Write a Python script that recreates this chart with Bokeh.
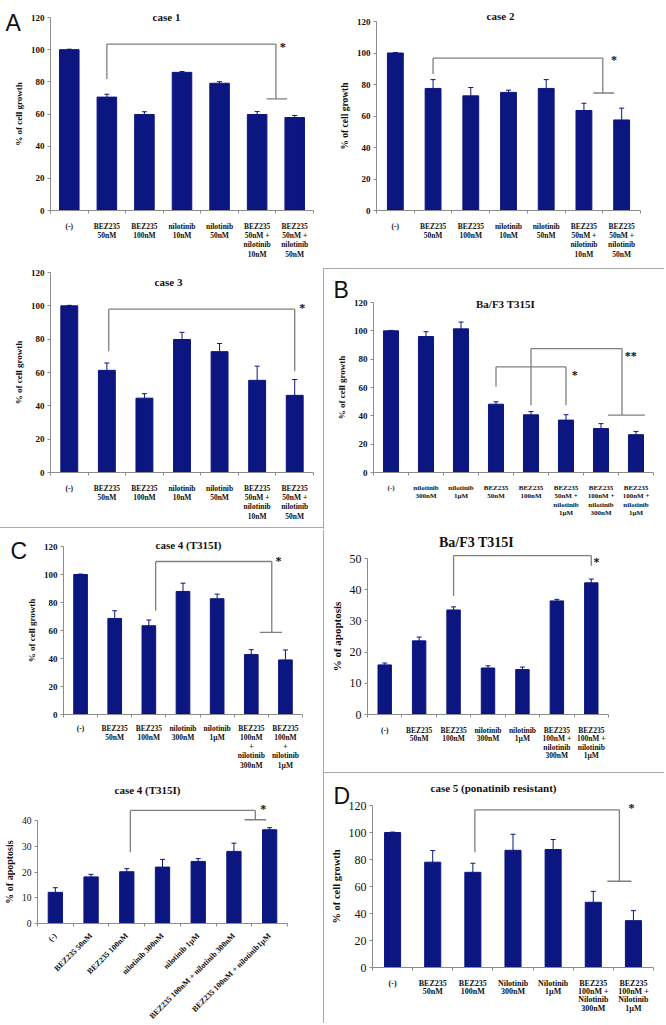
import math
from bokeh.plotting import figure
from bokeh.models import FixedTicker, Label, Whisker, TeeHead, ColumnDataSource, Range1d
from bokeh.layouts import column, row
from bokeh.embed import file_html
from bokeh.resources import INLINE

# ---------------- data ----------------
cats_ab = ["(-)", "BEZ235\n50nM", "BEZ235\n100nM", "nilotinib\n10nM", "nilotinib\n50nM",
           "BEZ235\n50nM +\nnilotinib\n10nM", "BEZ235\n50nM +\nnilotinib\n50nM"]
vals_case1 = [100, 70.5, 59.7, 85.9, 79.1, 59.7, 57.8]
errs_case1 = [0.3, 1.8, 1.7, 0.5, 1.0, 1.8, 1.3]
vals_case2 = [100, 77.5, 72.8, 75.0, 77.5, 63.5, 57.5]
errs_case2 = [0.3, 5.6, 5.3, 1.4, 5.6, 4.6, 7.5]
vals_case3 = [100, 61.3, 44.6, 79.8, 72.5, 55.3, 46.3]
errs_case3 = [0.3, 4.4, 2.7, 4.3, 4.9, 8.5, 9.5]

cats_b = ["(-)", "nilotinib\n300nM", "nilotinib\n1µM", "BEZ235\n50nM", "BEZ235\n100nM",
          "BEZ235\n50nM +\nnilotinib\n1µM", "BEZ235\n100nM +\nnilotinib\n300nM",
          "BEZ235\n100nM +\nnilotinib\n1µM"]
vals_b = [100, 96.0, 101.4, 48.2, 40.7, 37.0, 31.0, 26.7]
errs_b = [0.3, 3.4, 4.8, 1.7, 2.3, 3.8, 3.5, 2.3]

cats_ba = ["(-)", "BEZ235\n50nM", "BEZ235\n100nM", "nilotinib\n300nM", "nilotinib\n1µM",
           "BEZ235\n100nM +\nnilotinib\n300nM", "BEZ235\n100nM +\nnilotinib\n1µM"]
vals_ba = [15.9, 23.6, 33.5, 14.9, 14.4, 36.4, 42.2]
errs_ba = [0.6, 1.2, 1.0, 0.7, 0.8, 0.5, 1.2]

cats_c = ["(-)", "BEZ235\n50nM", "BEZ235\n100nM", "nilotinib\n300nM", "nilotinib\n1µM",
          "BEZ235\n100nM\n+\nnilotinib\n300nM", "BEZ235\n100nM\n+\nnilotinib\n1µM"]
vals_c = [100, 68.6, 63.4, 87.9, 82.7, 42.8, 39.0]
errs_c = [0.3, 5.5, 4.1, 5.9, 3.3, 3.5, 7.1]

cats_ca = ["(-)", "BEZ235 50nM", "BEZ235 100nM", "nilotinib 300nM", "nilotinib 1µM",
           "BEZ235 100nM + nilotinib 300nM", "BEZ235 100nM + nilotinib1µM"]
vals_ca = [12.1, 18.1, 20.1, 21.9, 24.1, 28.0, 36.4]
errs_ca = [1.8, 1.0, 1.2, 3.0, 1.1, 3.2, 0.8]

cats_d = ["(-)", "BEZ235\n50nM", "BEZ235\n100nM", "Nilotinib\n300nM", "Nilotinib\n1µM",
          "BEZ235\n100nM +\nNilotinib\n300nM", "BEZ235\n100nM +\nNilotinib\n1µM"]
vals_d = [100, 78.0, 70.5, 86.8, 87.4, 48.3, 34.7]
errs_d = [0.3, 8.6, 6.7, 11.9, 7.4, 8.1, 7.4]

ticks_growth = [0, 20, 40, 60, 80, 100, 120]
ticks_apo50 = [0, 10, 20, 30, 40, 50]
ticks_apo40 = [0, 10, 20, 30, 40]

# significance brackets: (x_left, x_right, y_top, y_left_end, y_right_end, tbar_x0, tbar_x1)
brk_case1 = [(1, 5.5, 103.5, 81.8, 69.4, 5.25, 5.8)]
brk_case2 = [(1, 5.5, 96.8, 86.7, 74.6, 5.25, 5.8)]
brk_case3 = [(1.05, 6.0, 98, 72.8, 60.8, None, None)]
brk_b = [(3, 5, 74.6, 60.5, 47.5, None, None), (4, 6.6, 87.5, 47.5, 40.5, 6.2, 7.25)]
brk_ba = [(2, 6, 50.9, 38, 47.7, None, None)]
brk_c = [(2.2, 5.6, 109.3, 74.1, 58.7, 5.25, 5.9)]
brk_ca = [(2.1, 5.6, 43.9, 27.7, 40.3, 5.3, 5.9)]
brk_d = [(2.05, 5.65, 116.8, 85.4, 63.9, 5.35, 5.95)]
stars_case1 = [(5.68, 101.5, "*")]
stars_case2 = [(5.8, 95.5, "*")]
stars_case3 = [(6.2, 98.5, "*")]
stars_b = [(5.25, 69.0, "*"), (6.85, 82.5, "**")]
stars_ba = [(6.15, 49.0, "*")]
stars_c = [(5.8, 110.0, "*")]
stars_ca = [(5.82, 44.5, "*")]
stars_d = [(5.95, 118.0, "*")]

BAR = "#0c1680"
AXC = "#8c8c8c"
BRK = "#7f7f7f"
SEP = "#a8a8a8"
SERIF = "Liberation Serif"
SANS = "Liberation Sans"


def chart(origin, size, frame, ytop, cats, vals, errs, yticks, bar_w, title, title_xy,
          title_size, ylabel, ylabel_size, ytick_size, ytick_style, xlab_size, xlab_lh,
          brackets, stars, letter=None, letter_xy=None, rotate=False, shadow=None,
          xlab_standoff=5):
    ox, oy = origin
    W, H = size
    fl, fr, ft, fb = frame
    n = len(cats)
    cw = (fr - fl) / n
    pu = (fb - ft) / ytop
    x0r = -0.5 - (fl - ox) / cw
    y1r = ytop + (ft - oy) / pu
    xr = Range1d(x0r, n - 0.5 + (ox + W - fr) / cw)
    yr = Range1d(-(oy + H - fb) / pu, y1r)

    def to_data(px, py):
        return (x0r + (px - ox) / cw, y1r - (py - oy) / pu)

    p = figure(width=W, height=H, x_range=xr, y_range=yr,
               toolbar_location=None, tools="", output_backend="svg")
    p.title.text = ""
    p.title.visible = False
    p.min_border = 0
    p.min_border_left = 0
    p.min_border_right = 0
    p.min_border_top = 0
    p.min_border_bottom = 0
    p.outline_line_color = None
    p.xgrid.visible = False
    p.ygrid.visible = False
    p.background_fill_color = "white"
    p.border_fill_color = "white"

    xs = list(range(n))
    src = ColumnDataSource(dict(x=xs, top=vals, upper=[v + e for v, e in zip(vals, errs)]))
    p.vbar(x="x", top="top", width=bar_w, color=BAR, source=src)
    p.add_layout(Whisker(source=src, base="x", lower="top", upper="upper", dimension="height",
                         line_color=BAR, line_width=1,
                         upper_head=TeeHead(size=5, line_color=BAR, line_width=1),
                         lower_head=None))

    # x axis
    xa = p.xaxis[0]
    xa.fixed_location = 0
    xa.bounds = (-0.5, n - 0.5)
    xa.ticker = FixedTicker(ticks=xs, minor_ticks=[i - 0.5 for i in range(n + 1)])
    xa.major_label_overrides = {i: c for i, c in enumerate(cats)}
    xa.major_tick_line_color = None
    xa.minor_tick_line_color = AXC
    xa.minor_tick_out = 3
    xa.minor_tick_in = 0
    xa.axis_line_color = AXC
    xa.major_label_text_font = SERIF
    xa.major_label_text_font_style = "bold"
    xa.major_label_text_font_size = xlab_size
    xa.major_label_text_line_height = xlab_lh
    xa.major_label_text_color = "#111111"
    xa.major_label_standoff = xlab_standoff
    if rotate:
        xa.major_label_orientation = math.pi / 4

    # y axis
    ya = p.yaxis[0]
    ya.fixed_location = -0.5
    ya.ticker = FixedTicker(ticks=yticks)
    ya.bounds = (yticks[0], yticks[-1])
    ya.axis_line_color = AXC
    ya.major_tick_line_color = AXC
    ya.major_tick_out = 3
    ya.major_tick_in = 0
    ya.minor_tick_line_color = None
    ya.major_label_text_font = SERIF
    ya.major_label_text_font_style = ytick_style
    ya.major_label_text_font_size = ytick_size
    ya.major_label_text_color = "#111111"
    ya.major_label_standoff = 3
    ya.axis_label = ylabel
    ya.axis_label_text_font = SERIF
    ya.axis_label_text_font_style = "bold"
    ya.axis_label_text_font_size = ylabel_size
    ya.axis_label_text_color = "#111111"
    ya.axis_label_standoff = 4

    # brackets
    bx0, by0, bx1, by1 = [], [], [], []
    for (xl, xrr, yt, yl, yrr, t0, t1) in brackets:
        bx0 += [xl, xl, xrr]; by0 += [yt, yt, yt]
        bx1 += [xrr, xl, xrr]; by1 += [yt, yl, yrr]
        if t0 is not None:
            bx0.append(t0); by0.append(yrr); bx1.append(t1); by1.append(yrr)
    p.segment(x0=bx0, y0=by0, x1=bx1, y1=by1, line_color=BRK, line_width=1.3)
    for sx, sy, st in stars:
        p.add_layout(Label(x=sx, y=sy, text=st, text_font=SERIF, text_font_size="12px",
                           text_font_style="bold", text_align="center",
                           text_baseline="middle", text_color="#111111"))

    tx, ty = to_data(*title_xy)
    p.add_layout(Label(x=tx, y=ty, text=title, text_font=SERIF, text_font_style="bold",
                       text_font_size=title_size, text_align="center",
                       text_baseline="alphabetic", text_color="#111111"))
    if letter:
        lx, ly = to_data(*letter_xy)
        p.add_layout(Label(x=lx, y=ly, text=letter, text_font=SANS, text_font_size="23px",
                           text_align="left", text_baseline="alphabetic", text_color="#111111"))
    if shadow:
        p.styles = {"box-shadow": shadow}
    return p


p1 = chart((0, 0), (324, 264), (50, 313, 17, 210), 120, cats_ab, vals_case1, errs_case1,
           ticks_growth, 0.52, "case 1", (166, 16), "11px", "% of cell growth", "9px", "9px",
           "bold", "7.5px", 1.05, brk_case1, stars_case1, "A", (5, 22))
p3 = chart((0, 264), (324, 264), (50, 313, 272, 472), 120, cats_ab, vals_case3, errs_case3,
           ticks_growth, 0.45, "case 3", (168, 281), "11px", "% of cell growth", "9px", "9px",
           "bold", "7.5px", 1.05, brk_case3, stars_case3)
pc = chart((0, 528), (324, 245), (63, 302, 546, 714), 120, cats_c, vals_c, errs_c,
           ticks_growth, 0.4, "case 4 (T315I)", (188, 544), "11px", "% of cell growth", "9px",
           "9px", "bold", "7.5px", 1.03, brk_c, stars_c, "C", (10, 550),
           shadow="0 -1px 0 " + SEP, xlab_standoff=3)
pca = chart((0, 773), (324, 251), (37, 287, 820, 923), 40, cats_ca, vals_ca, errs_ca,
            ticks_apo40, 0.4, "case 4 (T315I)", (147, 789), "11px", "% of apoptosis", "10px",
            "9.5px", "normal", "8px", 1.0, brk_ca, stars_ca, rotate=True)
p2 = chart((324, 0), (341, 269), (376, 640, 21, 210), 120, cats_ab, vals_case2, errs_case2,
           ticks_growth, 0.42, "case 2", (500, 15), "11px", "% of cell growth", "9.5px", "9px",
           "bold", "7.5px", 1.05, brk_case2, stars_case2)
pb = chart((324, 269), (341, 261), (373, 653, 302, 472), 120, cats_b, vals_b, errs_b,
           ticks_growth, 0.43, "Ba/F3 T315I", (505, 303), "11px", "% of cell growth", "9px",
           "9px", "bold", "7px", 1.08, brk_b, stars_b, "B", (333, 289),
           shadow="-1px -1px 0 " + SEP)
pba = chart((324, 530), (341, 243), (367, 608, 558, 714), 50, cats_ba, vals_ba, errs_ba,
            ticks_apo50, 0.39, "Ba/F3 T315I", (476, 542), "14px", "% of apoptosis", "11px",
            "12px", "normal", "7.5px", 0.96, brk_ba, stars_ba, shadow="-1px 0 0 " + SEP)
pd = chart((324, 773), (341, 251), (372, 653, 805, 967), 120, cats_d, vals_d, errs_d,
           ticks_growth, 0.4, "case 5 (ponatinib resistant)", (493, 787), "11px",
           "% of cell growth", "10.5px", "12px", "normal", "8px", 0.94, brk_d, stars_d, "D",
           (333, 795), shadow="-1px -1px 0 " + SEP)

layout = row(column(p1, p3, pc, pca), column(p2, pb, pba, pd))
open("out.html", "w").write(file_html(layout, INLINE))
